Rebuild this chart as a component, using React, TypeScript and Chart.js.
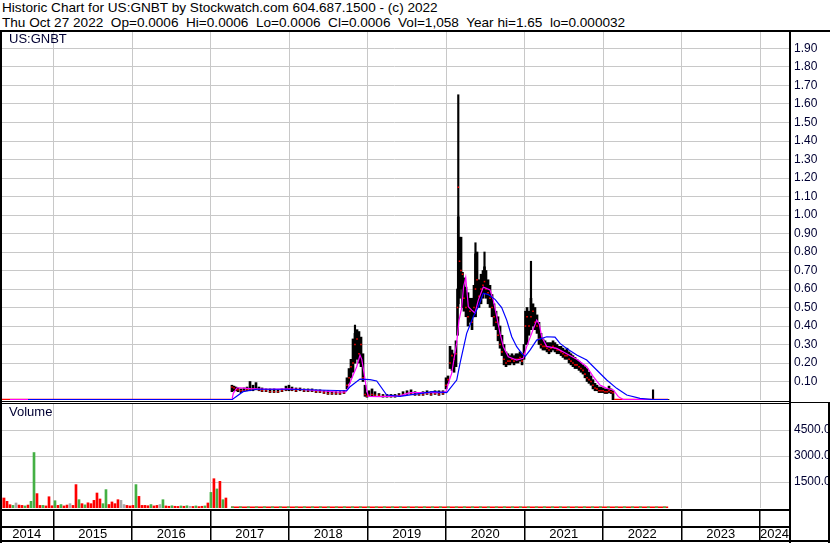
import React, { useEffect, useRef } from "react";
import { Chart, registerables } from "chart.js";
Chart.register(...registerables);

const FONT = '"Liberation Sans", Arial, sans-serif';
Chart.defaults.font.family = FONT;

// ---------- axes ----------
const xMin = 2014.318;
const xMax = 2024.369;
const yearLabels = ["2014", "2015", "2016", "2017", "2018", "2019", "2020", "2021", "2022", "2023", "2024"];
const yearStarts = [2015, 2016, 2017, 2018, 2019, 2020, 2021, 2022, 2023, 2024];
const priceTicks = [0.1, 0.2, 0.3, 0.4, 0.5, 0.6, 0.7, 0.8, 0.9, 1.0, 1.1, 1.2, 1.3, 1.4, 1.5, 1.6, 1.7, 1.8, 1.9];
const volumeTicks = [1500, 3000, 4500];

// ---------- price bars (decimal year, low, high, close) ----------
const priceDates = [2014.318, 2017.260, 2017.273, 2017.299, 2017.324, 2017.350, 2017.388, 2017.426, 2017.465, 2017.503, 2017.541, 2017.579, 2017.617, 2017.656, 2017.707, 2017.758, 2017.809, 2017.859, 2017.910, 2017.961, 2017.999, 2018.038, 2018.089, 2018.140, 2018.191, 2018.242, 2018.293, 2018.344, 2018.394, 2018.445, 2018.496, 2018.547, 2018.598, 2018.649, 2018.700, 2018.738, 2018.764, 2018.789, 2018.815, 2018.840, 2018.866, 2018.891, 2018.917, 2018.942, 2018.968, 2018.993, 2019.019, 2019.057, 2019.095, 2019.146, 2019.197, 2019.248, 2019.299, 2019.350, 2019.401, 2019.452, 2019.503, 2019.554, 2019.605, 2019.656, 2019.707, 2019.758, 2019.809, 2019.860, 2019.910, 2019.961, 2020.000, 2020.025, 2020.051, 2020.076, 2020.102, 2020.127, 2020.146, 2020.156, 2020.172, 2020.191, 2020.210, 2020.229, 2020.254, 2020.280, 2020.305, 2020.331, 2020.356, 2020.375, 2020.395, 2020.420, 2020.446, 2020.471, 2020.490, 2020.509, 2020.535, 2020.560, 2020.586, 2020.611, 2020.637, 2020.662, 2020.688, 2020.713, 2020.739, 2020.764, 2020.789, 2020.815, 2020.840, 2020.866, 2020.891, 2020.917, 2020.942, 2020.968, 2020.993, 2021.012, 2021.032, 2021.057, 2021.082, 2021.108, 2021.133, 2021.159, 2021.184, 2021.210, 2021.235, 2021.261, 2021.286, 2021.312, 2021.337, 2021.363, 2021.388, 2021.414, 2021.439, 2021.465, 2021.490, 2021.516, 2021.541, 2021.567, 2021.592, 2021.617, 2021.643, 2021.668, 2021.694, 2021.719, 2021.745, 2021.770, 2021.796, 2021.821, 2021.847, 2021.872, 2021.898, 2021.923, 2021.949, 2021.974, 2022.000, 2022.025, 2022.051, 2022.076, 2022.102, 2022.127, 2022.140, 2022.828];
const priceLows = [0, 0,
  0.045, 0.050, 0.050, 0.045, 0.040, 0.045, 0.050, 0.050, 0.050, 0.055,
  0.050, 0.045, 0.045, 0.040, 0.040, 0.040, 0.045, 0.050, 0.050, 0.050,
  0.045, 0.050, 0.045, 0.045, 0.045, 0.040, 0.040, 0.035, 0.030, 0.030,
  0.030, 0.030, 0.035, 0.060, 0.090, 0.120, 0.150, 0.200, 0.220, 0.200,
  0.180, 0.100, 0.020, 0.015, 0.020, 0.020, 0.020, 0.020, 0.015, 0.015,
  0.015, 0.015, 0.020, 0.025, 0.030, 0.030, 0.025, 0.025, 0.025, 0.030,
  0.025, 0.030, 0.025, 0.030, 0.060, 0.090, 0.170, 0.160, 0.150, 0.180,
  0.350, 0.520, 0.550, 0.600, 0.500, 0.480, 0.450, 0.400, 0.420, 0.380,
  0.450, 0.450, 0.500, 0.500, 0.520, 0.550, 0.580, 0.550, 0.520, 0.500,
  0.450, 0.400, 0.380, 0.320, 0.280, 0.240, 0.190, 0.180, 0.190, 0.190,
  0.200, 0.190, 0.200, 0.200, 0.210, 0.190, 0.220, 0.300, 0.300, 0.350,
  0.380, 0.400, 0.380, 0.360, 0.300, 0.280, 0.270, 0.270, 0.260, 0.250,
  0.260, 0.270, 0.260, 0.250, 0.250, 0.240, 0.230, 0.220, 0.220, 0.200,
  0.190, 0.180, 0.170, 0.170, 0.160, 0.150, 0.140, 0.120, 0.100, 0.090,
  0.080, 0.060, 0.050, 0.050, 0.040, 0.040, 0.040, 0.035, 0.035, 0.040,
  0.035, 0.000, 0.000, 0.000];
const priceHighs = [0.002, 0.002,
  0.080, 0.075, 0.070, 0.065, 0.060, 0.065, 0.070, 0.100, 0.080, 0.094,
  0.070, 0.065, 0.060, 0.060, 0.060, 0.055, 0.060, 0.075, 0.080, 0.070,
  0.065, 0.065, 0.060, 0.060, 0.060, 0.055, 0.055, 0.050, 0.050, 0.045,
  0.045, 0.045, 0.050, 0.120, 0.170, 0.220, 0.330, 0.360, 0.380, 0.370,
  0.340, 0.250, 0.080, 0.040, 0.050, 0.060, 0.045, 0.035, 0.030, 0.030,
  0.030, 0.030, 0.035, 0.045, 0.050, 0.055, 0.045, 0.040, 0.045, 0.050,
  0.045, 0.050, 0.050, 0.050, 0.120, 0.130, 0.290, 0.270, 0.250, 0.320,
  0.600, 0.990, 0.880, 0.880, 0.690, 0.660, 0.610, 0.580, 0.550, 0.550,
  0.620, 0.790, 0.800, 0.650, 0.680, 0.700, 0.720, 0.700, 0.650, 0.620,
  0.570, 0.520, 0.480, 0.450, 0.400, 0.350, 0.300, 0.260, 0.250, 0.240,
  0.250, 0.240, 0.250, 0.250, 0.260, 0.250, 0.300, 0.480, 0.500, 0.480,
  0.550, 0.520, 0.500, 0.460, 0.420, 0.360, 0.330, 0.320, 0.310, 0.310,
  0.310, 0.320, 0.310, 0.300, 0.290, 0.290, 0.280, 0.270, 0.280, 0.260,
  0.250, 0.240, 0.230, 0.220, 0.210, 0.200, 0.190, 0.180, 0.170, 0.150,
  0.130, 0.110, 0.090, 0.080, 0.070, 0.070, 0.065, 0.060, 0.060, 0.075,
  0.060, 0.050, 0.003, 0.003];
const priceCloses = [0.001, 0.001,
  0.070, 0.065, 0.055, 0.055, 0.050, 0.050, 0.055, 0.060, 0.060, 0.060,
  0.055, 0.050, 0.050, 0.045, 0.045, 0.045, 0.050, 0.055, 0.060, 0.055,
  0.050, 0.055, 0.050, 0.050, 0.050, 0.045, 0.045, 0.040, 0.035, 0.035,
  0.035, 0.035, 0.040, 0.080, 0.120, 0.180, 0.200, 0.300, 0.330, 0.250,
  0.300, 0.120, 0.030, 0.020, 0.025, 0.030, 0.025, 0.025, 0.020, 0.020,
  0.020, 0.020, 0.025, 0.030, 0.035, 0.035, 0.030, 0.030, 0.030, 0.035,
  0.030, 0.035, 0.030, 0.035, 0.080, 0.110, 0.200, 0.240, 0.220, 0.250,
  0.500, 1.150, 0.750, 0.700, 0.680, 0.550, 0.500, 0.450, 0.480, 0.420,
  0.500, 0.600, 0.650, 0.560, 0.600, 0.620, 0.640, 0.600, 0.580, 0.550,
  0.500, 0.450, 0.420, 0.350, 0.300, 0.260, 0.220, 0.200, 0.210, 0.210,
  0.220, 0.210, 0.220, 0.220, 0.230, 0.210, 0.250, 0.400, 0.450, 0.400,
  0.450, 0.480, 0.420, 0.400, 0.330, 0.300, 0.290, 0.290, 0.280, 0.270,
  0.280, 0.290, 0.280, 0.270, 0.270, 0.260, 0.250, 0.240, 0.240, 0.220,
  0.210, 0.200, 0.190, 0.190, 0.180, 0.170, 0.160, 0.140, 0.120, 0.110,
  0.100, 0.080, 0.065, 0.060, 0.050, 0.050, 0.050, 0.045, 0.045, 0.050,
  0.045, 0.040, 0.001, 0.001];

// single-day spikes (thin wicks)
const wickDates = [2018.840, 2020.156, 2020.375, 2020.490, 2021.082, 2022.637];
const wickLows = [0.200, 0.500, 0.450, 0.580, 0.380, 0.003];
const wickHighs = [0.405, 1.650, 0.850, 0.800, 0.750, 0.055];

// ---------- moving averages ----------
const maShortDates = [2014.445, 2017.273, 2017.290, 2017.333, 2017.375, 2017.503, 2017.758, 2017.974, 2018.140, 2018.394, 2018.649, 2018.726, 2018.751, 2018.802, 2018.862, 2018.904, 2018.926, 2018.946, 2018.989, 2019.010, 2019.159, 2019.414, 2019.541, 2019.923, 2020.000, 2020.029, 2020.072, 2020.136, 2020.165, 2020.200, 2020.223, 2020.251, 2020.284, 2020.327, 2020.369, 2020.411, 2020.475, 2020.560, 2020.602, 2020.637, 2020.688, 2020.730, 2020.793, 2020.900, 2020.984, 2021.028, 2021.091, 2021.155, 2021.188, 2021.219, 2021.282, 2021.410, 2021.537, 2021.665, 2021.792, 2021.876, 2021.961, 2022.047, 2022.131, 2022.195, 2022.258, 2022.828];
const maShortValues = [0.002, 0.002, 0.036, 0.065, 0.066, 0.062, 0.058, 0.060, 0.058, 0.050, 0.042, 0.045, 0.065, 0.120, 0.180, 0.243, 0.220, 0.170, 0.055, 0.020, 0.018, 0.022, 0.040, 0.040, 0.045, 0.090, 0.144, 0.310, 0.430, 0.500, 0.610, 0.663, 0.504, 0.486, 0.470, 0.540, 0.610, 0.595, 0.540, 0.470, 0.360, 0.288, 0.234, 0.216, 0.225, 0.290, 0.360, 0.432, 0.410, 0.342, 0.290, 0.279, 0.250, 0.220, 0.180, 0.126, 0.081, 0.063, 0.054, 0.018, 0.002, 0.002];
const maLongDates = [2014.675, 2017.273, 2017.414, 2017.588, 2017.974, 2018.735, 2018.777, 2018.904, 2019.031, 2019.117, 2019.244, 2019.414, 2019.834, 2020.009, 2020.136, 2020.178, 2020.263, 2020.347, 2020.411, 2020.475, 2020.539, 2020.624, 2020.709, 2020.773, 2020.837, 2020.900, 2020.964, 2021.006, 2021.070, 2021.155, 2021.282, 2021.388, 2021.452, 2021.537, 2021.665, 2021.792, 2021.919, 2022.047, 2022.174, 2022.302, 2022.471, 2022.637, 2022.828];
const maLongValues = [0.002, 0.002, 0.045, 0.058, 0.058, 0.050, 0.072, 0.113, 0.110, 0.103, 0.027, 0.020, 0.045, 0.040, 0.108, 0.198, 0.360, 0.450, 0.504, 0.577, 0.570, 0.544, 0.500, 0.432, 0.342, 0.288, 0.252, 0.234, 0.270, 0.324, 0.342, 0.340, 0.306, 0.279, 0.243, 0.216, 0.162, 0.108, 0.063, 0.027, 0.009, 0.002, 0.002];

// ---------- volume (bi-weekly samples from volStart) ----------
const volStart = 2014.331;
const volStep = 0.0382;
const volumes = [577, 577, 385, 190, 150, 290, 170, 150, 120, 170,
  385, 3200, 830, 150, 150, 120, 650, 130, 420, 150,
  200, 120, 170, 250, 150, 1350, 480, 250, 180, 300,
  250, 440, 865, 520, 250, 1060, 200, 350, 250, 480,
  440, 200, 150, 120, 150, 1350, 670, 150, 150, 130,
  200, 120, 150, 200, 480, 120, 100, 130, 100, 90,
  120, 100, 130, 100, 90, 120, 80, 100, 120, 290,
  900, 1690, 1100, 1540, 480, 577];
const volumeDirs = ("ddddunddud" + "uuddudddud" + "uddnddudud" + "dddduudddd" + "nndddudddd" +
  "uddnuddudd" + "udunduddud" + "ududud").split("");
const lowVolDates = [2017.26, 2022.83];
const lowVolValues = [40, 40];

const DIR_COLORS: Record<string, string> = { u: "#44b044", d: "#ff0000", n: "#a8a8a8" };
const GRID = "#c8c8c8";
const LABEL = "#000033";

const toXY = (xs: number[], ys: number[]) => xs.map((x, i) => ({ x, y: ys[i] }));

const dateAxisPlugin = {
  id: "dateAxis",
  afterDraw(chart: any) {
    const { ctx, chartArea } = chart;
    const xs = chart.scales.x;
    const top = chartArea.bottom;
    const left = chartArea.left;
    const right = chartArea.right;
    ctx.save();
    ctx.fillStyle = "#000";
    ctx.fillRect(left, top + 1, right - left, 2);
    ctx.fillRect(left, top + 18, right - left, 2);
    for (const yr of yearStarts) {
      const px = Math.round(xs.getPixelForValue(yr));
      ctx.fillRect(px - 1, top + 2, 1.5, 32);
    }
    ctx.font = `13px ${FONT}`;
    ctx.textAlign = "center";
    ctx.textBaseline = "middle";
    yearLabels.forEach((lab, i) => {
      const a = i === 0 ? left : xs.getPixelForValue(yearStarts[i - 1]);
      const b = i < yearStarts.length ? xs.getPixelForValue(yearStarts[i]) : right;
      ctx.fillText(lab, (a + b) / 2, top + 26.5);
    });
    ctx.restore();
  },
};

const xScale = (h: number) => ({
  type: "linear",
  min: xMin,
  max: xMax,
  offset: false,
  grid: { color: GRID, drawTicks: false, offset: false },
  border: { display: false },
  ticks: { display: false },
  afterBuildTicks: (s: any) => {
    s.ticks = yearStarts.map((value) => ({ value }));
  },
  afterFit: (s: any) => {
    s.height = h;
    s.paddingLeft = 0;
    s.paddingRight = 0;
  },
});

export default function App() {
  const priceRef = useRef<HTMLCanvasElement>(null);
  const volRef = useRef<HTMLCanvasElement>(null);

  useEffect(() => {
    const priceChart = new Chart(priceRef.current as HTMLCanvasElement, {
      type: "bar",
      data: {
        datasets: [
          {
            type: "line",
            label: "MA long",
            data: toXY(maLongDates, maLongValues),
            borderColor: "#0000ff",
            borderWidth: 1.2,
            pointRadius: 0,
            order: 0,
          },
          {
            type: "line",
            label: "MA short",
            data: toXY(maShortDates, maShortValues),
            borderColor: "#ff00ff",
            borderWidth: 1.2,
            pointRadius: 0,
            order: 1,
          },
          {
            type: "line",
            label: "Close",
            data: toXY(priceDates, priceCloses),
            borderColor: "#ff0000",
            borderWidth: 2,
            segment: {
              borderColor: (c: any) => (c.p0.parsed.y < 0.01 && c.p1.parsed.y < 0.01 ? "#ff0000" : "rgba(0,0,0,0)"),
            },
            pointStyle: "rect",
            pointRadius: (c: any) => (c.raw && c.raw.y < 0.01 ? 0 : 1.1),
            pointBackgroundColor: "#ff0000",
            pointBorderWidth: 0,
            order: 2,
          },
          {
            type: "bar",
            label: "Spikes",
            data: wickDates.map((x, i) => ({ x, y: [wickLows[i], wickHighs[i]] })),
            backgroundColor: "#000",
            barThickness: 1.5,
            stack: "p",
            order: 3,
          },
          {
            type: "bar",
            label: "Range",
            data: priceDates.map((x, i) => ({ x, y: [priceLows[i], priceHighs[i]] })),
            backgroundColor: "#000",
            barThickness: 2,
            stack: "p",
            order: 4,
          },
        ],
      } as any,
      options: {
        responsive: false,
        animation: false,
        events: [],
        layout: { padding: 0 },
        plugins: { legend: { display: false }, tooltip: { enabled: false } },
        scales: {
          x: xScale(0),
          y: {
            position: "right",
            min: 0,
            max: 2,
            stacked: false,
            grid: { color: GRID, drawTicks: false },
            border: { display: false },
            ticks: {
              padding: 5,
              color: LABEL,
              font: { size: 12, family: FONT },
              callback: (v: any) => Number(v).toFixed(2),
            },
            afterBuildTicks: (s: any) => {
              s.ticks = priceTicks.map((value) => ({ value }));
            },
            afterFit: (s: any) => {
              s.width = 41;
              s.paddingTop = 0;
              s.paddingBottom = 0;
            },
          },
        },
      } as any,
    });

    const volChart = new Chart(volRef.current as HTMLCanvasElement, {
      type: "bar",
      data: {
        datasets: [
          {
            type: "line",
            label: "Volume small green",
            data: toXY(lowVolDates, lowVolValues),
            borderColor: "#44b044",
            borderWidth: 1.5,
            borderDash: [3, 5],
            pointRadius: 0,
            order: 0,
          },
          {
            type: "line",
            label: "Volume small",
            data: toXY(lowVolDates, lowVolValues),
            borderColor: "#ff0000",
            borderWidth: 1.5,
            pointRadius: 0,
            order: 1,
          },
          {
            type: "bar",
            label: "Volume",
            data: volumes.map((v, i) => ({ x: volStart + i * volStep, y: v })),
            backgroundColor: volumeDirs.map((d) => DIR_COLORS[d]),
            barThickness: 2,
            order: 2,
          },
        ],
      } as any,
      options: {
        responsive: false,
        animation: false,
        events: [],
        layout: { padding: 0 },
        plugins: { legend: { display: false }, tooltip: { enabled: false } },
        scales: {
          x: xScale(35),
          y: {
            position: "right",
            min: 0,
            max: 6000,
            grid: { color: GRID, drawTicks: false },
            border: { display: false },
            ticks: {
              padding: 5,
              color: LABEL,
              font: { size: 12, family: FONT },
              callback: (v: any) => Number(v).toFixed(1),
            },
            afterBuildTicks: (s: any) => {
              s.ticks = volumeTicks.map((value) => ({ value }));
            },
            afterFit: (s: any) => {
              s.width = 41;
              s.paddingTop = 0;
              s.paddingBottom = 0;
            },
          },
        },
      } as any,
      plugins: [dateAxisPlugin],
    });

    return () => {
      priceChart.destroy();
      volChart.destroy();
    };
  }, []);

  const line = (left: number, top: number, width: number, height: number) => (
    <div style={{ position: "absolute", left, top, width, height, background: "#000" }} />
  );

  return (
    <div
      style={{
        position: "fixed",
        left: 0,
        top: 0,
        width: 830,
        height: 543,
        background: "#fff",
        overflow: "hidden",
        fontFamily: FONT,
      }}
    >
      <div
        style={{
          position: "absolute",
          left: 2,
          top: 0,
          fontSize: "13.6px",
          lineHeight: "15px",
          whiteSpace: "pre",
          color: "#000",
        }}
      >
        {"Historic Chart for US:GNBT by Stockwatch.com 604.687.1500 - (c) 2022\nThu Oct 27 2022  Op=0.0006  Hi=0.0006  Lo=0.0006  Cl=0.0006  Vol=1,058  Year hi=1.65  lo=0.000032"}
      </div>
      <canvas ref={priceRef} width={830} height={370} style={{ position: "absolute", left: 0, top: 30 }} />
      <canvas ref={volRef} width={830} height={139} style={{ position: "absolute", left: 0, top: 404 }} />
      {line(0, 30, 830, 2)}
      {line(0, 30, 2, 513)}
      {line(789, 30, 2, 513)}
      {line(0, 401, 789, 1)}
      {line(0, 403, 789, 1)}
      {line(791, 402, 39, 1)}
      {line(0, 540, 830, 2)}
      {line(828, 402, 2, 141)}
      <div style={{ position: "absolute", left: 9, top: 31, fontSize: "13px", lineHeight: "16px", color: "#000033" }}>US:GNBT</div>
      <div style={{ position: "absolute", left: 9, top: 404, fontSize: "13px", lineHeight: "16px", color: "#000033" }}>Volume</div>
    </div>
  );
}
